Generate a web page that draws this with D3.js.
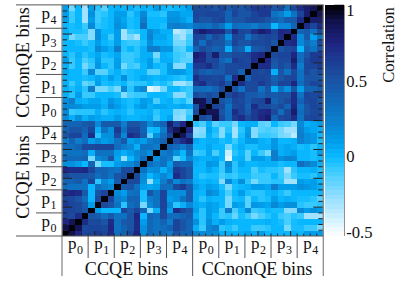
<!DOCTYPE html>
<html><head><meta charset="utf-8">
<script src="https://cdn.jsdelivr.net/npm/d3@7"></script>
<style>html,body{margin:0;padding:0;background:#fff}svg{display:block}text{font-family:"Liberation Serif",serif;fill:#111}</style>
</head><body><svg id="c" width="415" height="281"></svg>
<script>
const pLabels=["0","1","2","3","4"];
const groupLabels=["CCQE bins","CCnonQE bins"];
const colorbarTicks=[-0.5,0,0.5,1];
const colorStops=[-0.53,-0.5,-0.25,-0.1,0,0.1,0.25,0.4,0.5,0.65,0.75,0.9,1];
const colorValues=["#ffffff","#f6fcff","#8adcff","#3fccff","#09b9ff","#009cea","#0c7ccb","#1264b4","#1a53a4","#1c3a92","#1e2380","#10104a","#000000"];
// Rows of the CCQE / CCQE triangle, from the bottom row upward.
const ccqeRows=[
[1],
[.88,1],
[.75,.85,1],
[.6,.55,.7,1],
[.6,.6,.55,.5,1],
[.65,.6,.55,.45,.1,1],
[.6,.55,.5,.35,0,.55,1],
[.7,.75,.7,.45,.02,.5,.6,1],
[.35,.3,.3,.3,0,.3,.25,.2,1],
[.4,.4,.45,.3,.6,-.05,.2,.1,.45,1],
[.55,.5,.5,.5,.45,.35,.4,.3,.5,.55,1],
[.75,.7,.7,.75,.6,.4,.4,.35,.3,.55,.55,1],
[.15,.15,.1,0,.4,-.2,-.03,-.03,.1,.15,.2,.3,1],
[.38,.38,.38,.4,-.22,.2,.25,.5,.08,-.28,0,.15,.35,1],
[.3,.3,.3,.35,.05,.3,.3,.3,.1,.05,.1,.2,.25,.15,1],
[.35,.35,.4,.55,.55,.6,.6,.6,.35,.25,.2,.05,.3,.3,.25,1],
[.25,.4,.25,.35,.1,.2,.1,.15,.3,.45,.1,.15,.1,.25,.3,.4,1],
[.5,.6,.6,.35,.7,-.05,.15,.15,.55,.2,.7,.65,.45,-.15,.15,.35,.6,1],
[.4,.5,.5,.4,.6,.05,.3,.15,.65,.3,.6,.6,.4,-.02,0,.25,.7,.85,1],
[.4,.4,.4,.45,.5,.2,.45,.45,.45,.25,.5,.5,.4,.2,.3,.4,.8,.6,.75,1]];
// Rows of the CCnonQE / CCnonQE triangle, from the bottom row upward.
const nonqeRows=[
[1],
[.55,1],
[.5,.85,1],
[.9,.85,.6,1],
[.55,.5,.55,.5,1],
[.35,.35,.3,.4,.55,1],
[.65,.7,.55,.6,.65,.5,1],
[.7,.6,.6,.55,.6,.3,.7,1],
[.55,.45,.4,.45,.45,.55,.55,.4,1],
[.65,.65,.7,.55,.45,.55,.55,.6,.6,1],
[.75,.7,.55,.6,.4,.3,.65,.6,.55,.7,1],
[.8,.75,.55,.8,.5,.5,.55,.55,.6,.7,.75,1],
[.4,.55,.5,.4,.45,.05,.45,.4,.05,.45,.5,.55,1],
[.55,.35,.55,.5,.5,.3,.6,.5,.5,.55,.55,.6,.5,1],
[.6,.55,.4,.55,.5,.15,.6,.55,.3,.5,.55,.6,.55,.7,1],
[.7,.8,.75,.7,.7,.5,.75,.6,.55,.7,.8,.75,.6,.75,.7,1],
[.3,.35,.3,.4,.3,.1,.35,.3,.3,.25,.35,.35,.02,.2,.2,.4,1],
[.55,.5,.5,.55,.6,.4,.5,.5,.55,.6,.55,.5,.4,.35,.45,.45,.7,1],
[.6,.55,.6,.6,.55,.4,.6,.5,.5,.6,.65,.65,.3,.25,.1,.3,.6,.8,1],
[.55,.55,.55,.5,.6,.45,.55,.5,.55,.65,.65,.65,.5,.55,.3,.55,.7,.8,.85,1]];
// CCnonQE rows (top to bottom) against CCQE columns (left to right).
const crossRows=[
[.1,-.2,0,-.3,.1,-.05,-.15,0,.05,0,.03,-.02,.05,0,.1,0,-.02,.02,.05,.1],
[.1,-.08,0,-.3,.15,-.08,-.05,0,.1,.1,-.05,.03,.2,-.02,-.02,-.05,.12,.12,.08,.08],
[.1,-.1,0,-.3,.1,-.08,-.02,0,.12,.08,-.03,0,.25,0,0,0,.15,.15,.1,.05],
[.02,-.02,0,-.1,.2,-.05,-.02,0,.15,.1,-.02,0,.35,0,0,-.02,.22,.25,.22,.2],
[.05,-.02,-.02,-.05,-.25,.15,.02,0,.1,-.3,-.1,-.05,0,.2,.1,.05,.05,-.35,-.3,-.2],
[.02,-.2,-.12,-.12,-.25,.15,.05,-.1,.1,-.3,-.2,-.3,.02,.22,.08,.08,0,-.25,-.3,-.12],
[0,0,-.02,-.1,-.03,.1,0,-.02,.1,-.05,-.1,-.1,-.02,.15,.05,.03,0,-.2,-.2,-.08],
[0,0,0,0,-.02,.2,.1,.05,.25,-.05,0,-.05,.03,.25,.25,.12,.12,-.12,-.15,0],
[.02,-.05,.03,-.05,0,.08,-.02,0,.07,-.1,-.1,-.05,.05,.05,-.2,.03,0,-.1,-.12,-.18],
[.1,-.1,.02,-.12,-.05,.1,-.05,-.05,.1,-.1,-.1,-.03,.05,.1,-.1,.03,.05,-.1,-.15,-.15],
[.05,-.1,0,-.2,-.1,.12,0,-.05,.1,-.2,-.1,-.12,.02,.1,0,-.02,.1,-.25,-.25,.05],
[.08,0,0,-.08,.2,-.15,-.15,-.02,.05,-.05,-.03,0,0,-.15,-.15,-.02,.1,.12,.1,.05],
[.05,0,.02,-.02,0,.08,0,.1,0,.15,-.03,.02,.08,.05,0,.03,0,-.02,-.05,0],
[.05,-.08,0,-.18,-.12,.1,-.02,0,-.03,0,-.08,-.05,-.05,0,-.05,-.03,-.1,-.3,-.3,-.2],
[.03,-.02,.05,-.05,.25,-.2,-.2,-.12,-.2,.2,-.05,.12,.18,-.45,-.38,-.2,0,0,-.05,-.1],
[.05,-.05,.1,-.1,-.08,0,0,0,-.02,-.25,-.12,-.1,-.08,0,0,0,-.02,-.25,-.25,-.1],
[.15,.25,.05,.02,.08,.08,0,.12,.08,0,-.03,.02,.1,.08,-.12,.02,.03,-.05,-.02,-.15],
[.2,.2,.15,.1,.1,.1,.05,.2,.1,.05,-.03,.08,.12,.05,.08,.08,.05,.03,.08,.05],
[.2,-.1,-.05,-.05,-.05,.05,-.05,0,.05,.02,-.05,0,.02,.03,-.05,0,.02,-.22,-.25,-.12],
[.2,.05,.15,.05,.1,.08,.05,.05,.1,.05,0,.02,.05,.08,-.08,.02,.08,-.25,-.28,-.05]];

const N=40, L=62, R=323.3, T=5.2, B=236;
const x=d3.scaleBand().domain(d3.range(N)).range([L,R]);
const y=d3.scaleBand().domain(d3.range(N)).range([B,T]);
const zScale=d3.scaleLinear().domain([-0.53,1]).range([B,T]);
const ramp=d3.scaleLinear().domain(colorStops).range(colorValues).interpolate(d3.interpolateRgb);
const levels=50;
const levelOf=d3.scaleQuantize().domain([-0.53,1]).range(d3.range(levels));
const levelColor=i=>ramp(-0.53+(i+0.5)*1.53/levels);
const color=v=>levelColor(levelOf(v));
function val(i,j){
  const a=Math.max(i,j), b=Math.min(i,j);
  if(b>=20) return nonqeRows[a-20][b-20];
  if(a<20) return ccqeRows[a][b];
  return crossRows[39-a][b];
}
const cells=[];
for(let i=0;i<N;i++)for(let j=0;j<N;j++)cells.push({i,j,v:val(i,j)});
const svg=d3.select("#c");
svg.append("g").attr("shape-rendering","crispEdges").selectAll("rect").data(cells).join("rect")
 .attr("x",d=>x(d.j)).attr("y",d=>y(d.i)).attr("width",x.bandwidth()+.4).attr("height",y.bandwidth()+.4)
 .attr("fill",d=>color(d.v));

// Frame ticks every bin, longer every fifth bin
const ticks=svg.append("g").attr("stroke","#222").attr("stroke-width",1);
d3.range(1,N).forEach(k=>{
  const major=k%5===0;
  const px=x(k), py=y(k)+y.bandwidth();
  ticks.append("line").attr("x1",px).attr("x2",px).attr("y1",T).attr("y2",T+(major?5:2.5));
  ticks.append("line").attr("x1",px).attr("x2",px).attr("y1",B).attr("y2",B-(major?5:2.5));
  ticks.append("line").attr("x1",L).attr("x2",L+(major?10:5)).attr("y1",py).attr("y2",py);
  ticks.append("line").attr("x1",R).attr("x2",R-(major?10:5)).attr("y1",py).attr("y2",py);
});

// Frame and group dividers
const gray="#8c8c8c", dark="#555";
const lines=svg.append("g").attr("fill","none");
const seg=(x1,y1,x2,y2,c,w)=>lines.append("line").attr("x1",x1).attr("y1",y1).attr("x2",x2).attr("y2",y2).attr("stroke",c).attr("stroke-width",w||1);
seg(L,T-.7,L,276,gray,1.3);
seg(R,T-.7,R,276,gray,1.3);
seg(16,T-.3,R,T-.3,dark,1);
seg(16,B,R,B,dark,1);
seg(16,y(19)+y.bandwidth(),L,y(19)+y.bandwidth(),dark,1);
seg(x(20),B,x(20),276,dark,1);
for(let k=4;k<40;k+=4){
  if(k===20)continue;
  seg(x(k),B,x(k),258,dark,1);
  const py=y(k)+y.bandwidth();
  seg(36,py,L,py,dark,1);
}

// p labels, one per block of four bins
const pText=(px,py,s)=>{
  const t=svg.append("text").attr("x",px).attr("y",py).attr("font-size",17).text("p");
  t.append("tspan").attr("font-size",12).attr("dy",5).attr("dx",.5).text(s);
};
[0,1].forEach(h=>pLabels.forEach((s,g)=>{
  const k=h*20+g*4;
  pText(x(k)+6,249,s);
  pText(41.5,y(k)+y.bandwidth()-9,s);
}));

const rotText=(cx,cy,s,fs)=>svg.append("text").attr("transform",`translate(${cx},${cy}) rotate(-90)`).attr("text-anchor","middle").attr("font-size",fs).text(s);
rotText(29,62.5,groupLabels[1],18.2);
rotText(29,177,groupLabels[0],18.2);
svg.append("text").attr("x",126.5).attr("y",275).attr("text-anchor","middle").attr("font-size",18.2).text(groupLabels[0]);
svg.append("text").attr("x",257).attr("y",275).attr("text-anchor","middle").attr("font-size",18.2).text(groupLabels[1]);

// Colour bar
const barL=325.3, barR=344;
svg.append("g").attr("shape-rendering","crispEdges").selectAll("rect").data(d3.range(levels)).join("rect")
 .attr("x",barL).attr("width",barR-barL)
 .attr("y",i=>zScale(-0.53+(i+1)*1.53/levels)).attr("height",(B-T)/levels+.4)
 .attr("fill",levelColor);
seg(barR+.3,T,barR+.3,B,gray,1.3);
const axis=d3.axisRight(zScale).tickValues(colorbarTicks).tickSize(0).tickFormat(d=>String(d));
const ag=svg.append("g").attr("transform",`translate(${barR+.3},0)`).call(axis);
ag.select(".domain").remove();
ag.selectAll(".tick text").attr("x",2).attr("font-size",16.6).attr("dy",d=>d===1?"0.62em":"0.34em").attr("font-family",'"Liberation Serif",serif').style("fill","#111");
colorbarTicks.forEach(v=>seg(barR-10,zScale(v),barR,zScale(v),"#333",1));
rotText(394,45,"Correlation",16.6);
</script></body></html>
